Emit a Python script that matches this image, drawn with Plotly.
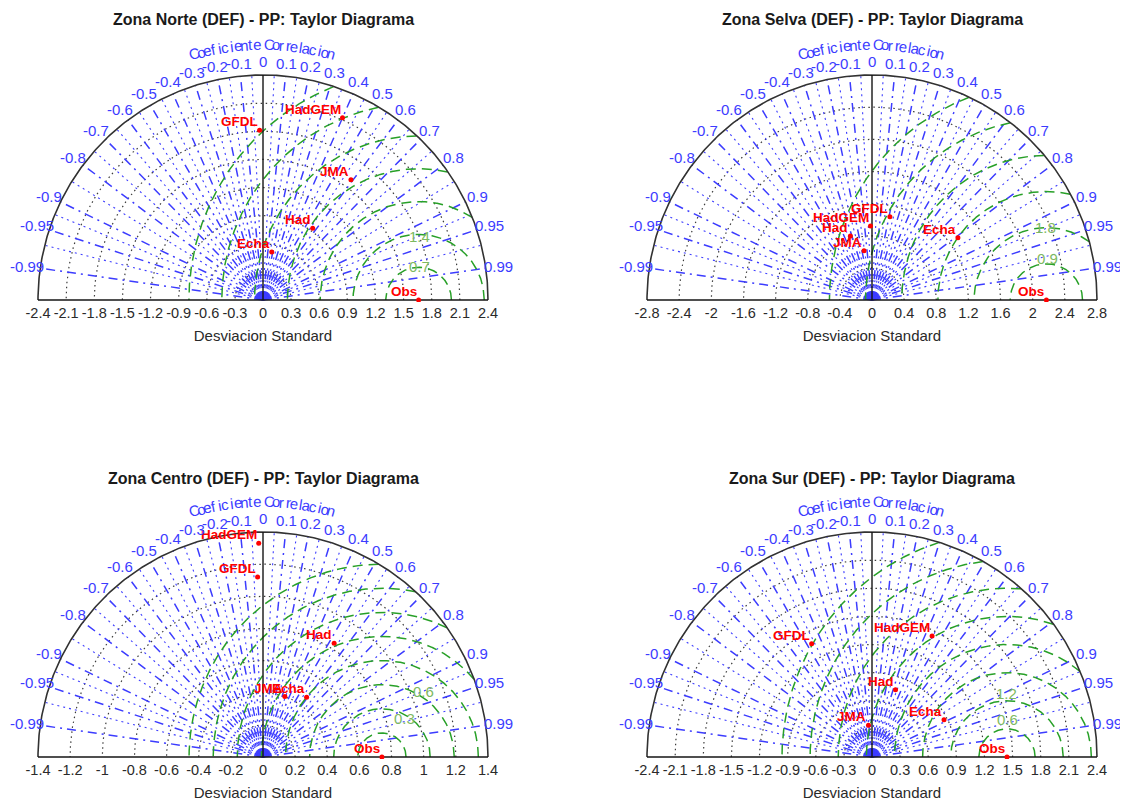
import numpy as np
import plotly.graph_objects as go

OFF = 8                     # page body margin of the written html
W, H = 1128 - OFF, 803 - OFF
R_PX = 225                  # pixel radius of each half-disc

# ---------------- data ----------------
MODELOS = ["Obs", "HadGEM", "GFDL", "JMA", "Had", "Echa"]

NORTE_STD = [1.66, 2.12, 1.81, 1.59, 0.93, 0.52]
NORTE_COR = [1.00, 0.40, -0.02, 0.59, 0.57, 0.18]
SELVA_STD = [2.17, 0.92, 1.06, 0.62, 0.84, 1.32]
SELVA_COR = [1.00, -0.02, 0.21, -0.16, -0.32, 0.81]
CENTRO_STD = [0.74, 1.33, 1.12, 0.40, 0.835, 0.46]
CENTRO_COR = [1.00, -0.02, -0.03, 0.34, 0.53, 0.59]
SUR_STD = [1.44, 1.44, 1.37, 0.34, 0.76, 0.865]
SUR_COR = [1.00, 0.445, -0.47, -0.11, 0.33, 0.888]

NORTE_TICKS = [-2.4, -2.1, -1.8, -1.5, -1.2, -0.9, -0.6, -0.3, 0, 0.3, 0.6, 0.9, 1.2, 1.5, 1.8, 2.1, 2.4]
SELVA_TICKS = [-2.8, -2.4, -2, -1.6, -1.2, -0.8, -0.4, 0, 0.4, 0.8, 1.2, 1.6, 2, 2.4, 2.8]
CENTRO_TICKS = [-1.4, -1.2, -1, -0.8, -0.6, -0.4, -0.2, 0, 0.2, 0.4, 0.6, 0.8, 1, 1.2, 1.4]
SUR_TICKS = [-2.4, -2.1, -1.8, -1.5, -1.2, -0.9, -0.6, -0.3, 0, 0.3, 0.6, 0.9, 1.2, 1.5, 1.8, 2.1, 2.4]

COR_TICKS = [0, 0.1, 0.2, 0.3, 0.4, 0.5, 0.6, 0.7, 0.8, 0.9, 0.95, 0.99]
COR_MINOR = [0.05, 0.15, 0.25, 0.35, 0.45, 0.55, 0.65, 0.75, 0.85, 0.925, 0.97]

NORTE_RMS = [0.35, 0.7, 1.05, 1.4, 1.75, 2.1, 2.45]
SELVA_RMS = [0.45, 0.9, 1.35, 1.8, 2.25, 2.7]
CENTRO_RMS = [0.15, 0.3, 0.45, 0.6, 0.75, 0.9, 1.05, 1.2]
SUR_RMS = [0.3, 0.6, 0.9, 1.2, 1.5, 1.8, 2.1, 2.4]

NORTE_RMS_LBL = ["0.7", "1.4"]
SELVA_RMS_LBL = ["0.9", "1.8"]
CENTRO_RMS_LBL = ["0.3", "0.6"]
SUR_RMS_LBL = ["0.6", "1.2"]

TITULOS = ["Zona Norte (DEF) - PP: Taylor Diagrama",
           "Zona Selva (DEF) - PP: Taylor Diagrama",
           "Zona Centro (DEF) - PP: Taylor Diagrama",
           "Zona Sur (DEF) - PP: Taylor Diagrama"]
TITULO_COR = "Coeficiente Correlacion"
TITULO_X = "Desviacion Standard"

# ---------------- layout config (page pixel positions) ----------------
PANELES = [
    dict(std=NORTE_STD, cor=NORTE_COR, ticks=NORTE_TICKS, rms=NORTE_RMS, rms_lbl=NORTE_RMS_LBL,
         rmax=2.4, cx=263, cy=300, ty=20, lbl_pos=[(0.01, 0.36), (0.01, 0.68)]),
    dict(std=SELVA_STD, cor=SELVA_COR, ticks=SELVA_TICKS, rms=SELVA_RMS, rms_lbl=SELVA_RMS_LBL,
         rmax=2.8, cx=872, cy=300, ty=20, lbl_pos=[(0.01, 0.52), (-0.01, 0.9)]),
    dict(std=CENTRO_STD, cor=CENTRO_COR, ticks=CENTRO_TICKS, rms=CENTRO_RMS, rms_lbl=CENTRO_RMS_LBL,
         rmax=1.4, cx=263, cy=757, ty=478, lbl_pos=[(0.14, 0.24), (0.26, 0.41)]),
    dict(std=SUR_STD, cor=SUR_COR, ticks=SUR_TICKS, rms=SUR_RMS, rms_lbl=SUR_RMS_LBL,
         rmax=2.4, cx=872, cy=757, ty=478, lbl_pos=[(0.0, 0.405), (-0.01, 0.68)]),
]

FONT = "Liberation Sans, Arial, sans-serif"
BLUE = "rgb(60,60,255)"
GREEN = "rgb(40,160,40)"
GREEN_TXT = "rgb(125,185,95)"
RED = "rgb(255,0,0)"

fig = go.Figure()
annotations = []
layout_axes = {}


def fmt(v):
    s = f"{v:g}"
    return "0" if s in ("-0", "0") else s


for i, p in enumerate(PANELES):
    n = i + 1
    xa = "x" if n == 1 else f"x{n}"
    ya = "y" if n == 1 else f"y{n}"
    rmax = p["rmax"]
    sx = R_PX / rmax
    cx, cy = p["cx"] - OFF, p["cy"] - OFF
    xr = 1.075 * rmax
    ytop = 1.17 * rmax
    ybot = -2.0 / sx
    layout_axes[("xaxis" if n == 1 else f"xaxis{n}")] = dict(
        domain=[(cx - xr * sx) / W, (cx + xr * sx) / W], range=[-xr, xr], anchor=ya,
        showgrid=False, zeroline=False, showline=False, ticks="",
        tickmode="array", tickvals=p["ticks"], ticktext=[fmt(t) for t in p["ticks"]],
        tickfont=dict(family=FONT, size=14.5, color="#2a2a2a"),
        title=dict(text=TITULO_X, font=dict(family=FONT, size=15, color="#2a2a2a"), standoff=10),
        automargin=False, fixedrange=True)
    layout_axes[("yaxis" if n == 1 else f"yaxis{n}")] = dict(
        domain=[1 - (cy - ybot * sx) / H, 1 - (cy - ytop * sx) / H], range=[ybot, ytop], anchor=xa,
        visible=False, automargin=False, fixedrange=True)

    th = np.linspace(0, np.pi, 361)

    # dotted std circles
    cx_l, cy_l = [], []
    for t in p["ticks"]:
        if 0 < t < rmax - 1e-9:
            cx_l += list(t * np.cos(th)) + [None]
            cy_l += list(t * np.sin(th)) + [None]
    fig.add_trace(go.Scatter(x=cx_l, y=cy_l, mode="lines", xaxis=xa, yaxis=ya, hoverinfo="skip",
                             line=dict(color="rgb(60,60,60)", width=1.2, dash="1.5px,3.5px"), showlegend=False))

    # minor correlation spokes (dotted)
    sxl, syl = [], []
    for c in COR_MINOR:
        for s in (1, -1):
            a = np.arccos(s * c)
            sxl += [0, rmax * np.cos(a), None]
            syl += [0, rmax * np.sin(a), None]
    fig.add_trace(go.Scatter(x=sxl, y=syl, mode="lines", xaxis=xa, yaxis=ya, hoverinfo="skip",
                             line=dict(color=BLUE, width=1.1, dash="2px,4px"), showlegend=False))
    # major correlation spokes (dash-dot)
    sxl, syl = [], []
    for c in COR_TICKS[1:]:
        for s in (1, -1):
            a = np.arccos(s * c)
            sxl += [0, rmax * np.cos(a), None]
            syl += [0, rmax * np.sin(a), None]
    fig.add_trace(go.Scatter(x=sxl, y=syl, mode="lines", xaxis=xa, yaxis=ya, hoverinfo="skip",
                             line=dict(color=BLUE, width=1.5, dash="9px,5px,2px,5px"), showlegend=False))

    # RMS arcs centred on the observation
    obs = p["std"][0]
    t2 = np.linspace(0, np.pi, 721)
    gx, gy = [], []
    for r in p["rms"]:
        xx = obs + r * np.cos(t2)
        yy = r * np.sin(t2)
        inside = xx ** 2 + yy ** 2 <= rmax ** 2
        prev = False
        for xv, yv, ok in zip(xx, yy, inside):
            if ok:
                gx.append(xv)
                gy.append(yv)
            elif prev:
                gx.append(None)
                gy.append(None)
            prev = ok
        gx.append(None)
        gy.append(None)
    fig.add_trace(go.Scatter(x=gx, y=gy, mode="lines", xaxis=xa, yaxis=ya, hoverinfo="skip",
                             line=dict(color=GREEN, width=1.5, dash="10px,6px"), showlegend=False))

    # outer circle, baseline and zero-correlation axis
    fig.add_trace(go.Scatter(x=list(rmax * np.cos(th)), y=list(rmax * np.sin(th)), mode="lines",
                             xaxis=xa, yaxis=ya, hoverinfo="skip",
                             line=dict(color="rgb(50,50,50)", width=1.6), showlegend=False))
    fig.add_trace(go.Scatter(x=[-rmax, rmax, None, 0, 0], y=[0, 0, None, 0, rmax], mode="lines",
                             xaxis=xa, yaxis=ya, hoverinfo="skip",
                             line=dict(color="rgb(20,20,20)", width=1.4), showlegend=False))

    # model points
    std = np.array(p["std"])
    cor = np.array(p["cor"])
    px = std * cor
    py = std * np.sin(np.arccos(cor))
    fig.add_trace(go.Scatter(x=px, y=py, mode="markers", xaxis=xa, yaxis=ya, text=MODELOS,
                             marker=dict(color=RED, size=5), showlegend=False))
    for name, xv, yv in zip(MODELOS, px, py):
        annotations.append(dict(x=xv, y=yv, xref=xa, yref=ya, text=f"<b>{name}</b>", showarrow=False,
                                xanchor="right", yanchor="bottom", xshift=0, yshift=-1,
                                font=dict(family=FONT, size=13.5, color=RED)))

    # RMS labels
    for lbl, (dx, dy) in zip(p["rms_lbl"], p["lbl_pos"]):
        annotations.append(dict(x=obs + dx, y=dy, xref=xa, yref=ya, text=lbl, showarrow=False,
                                xanchor="center", yanchor="middle",
                                font=dict(family=FONT, size=15, color=GREEN_TXT)))

    # correlation labels
    for c in COR_TICKS:
        for s in ((1,) if c == 0 else (1, -1)):
            a = np.arccos(s * c)
            annotations.append(dict(x=1.058 * rmax * np.cos(a), y=1.058 * rmax * np.sin(a),
                                    xref=xa, yref=ya, text=fmt(s * c), showarrow=False,
                                    xanchor="center", yanchor="middle",
                                    font=dict(family=FONT, size=15, color=BLUE)))

    # curved axis title
    chars = list(TITULO_COR)
    angs = np.linspace(105.5, 74.5, len(chars))
    for ch, ag in zip(chars, angs):
        if ch == " ":
            continue
        ar = np.radians(ag)
        annotations.append(dict(x=1.135 * rmax * np.cos(ar), y=1.135 * rmax * np.sin(ar),
                                xref=xa, yref=ya, text=ch, showarrow=False, textangle=90 - ag,
                                xanchor="center", yanchor="middle",
                                font=dict(family=FONT, size=15, color=BLUE)))

    # panel title
    annotations.append(dict(x=cx / W, y=1 - (p["ty"] - OFF) / H, xref="paper", yref="paper",
                            text=f"<b>{TITULOS[i]}</b>", showarrow=False, xanchor="center",
                            yanchor="middle", font=dict(family=FONT, size=16, color="#1a1a1a")))

fig.update_layout(width=W, height=H, margin=dict(l=0, r=0, t=0, b=0),
                  paper_bgcolor="white", plot_bgcolor="white", template="none",
                  annotations=annotations, **layout_axes)

fig.write_html("out.html")
